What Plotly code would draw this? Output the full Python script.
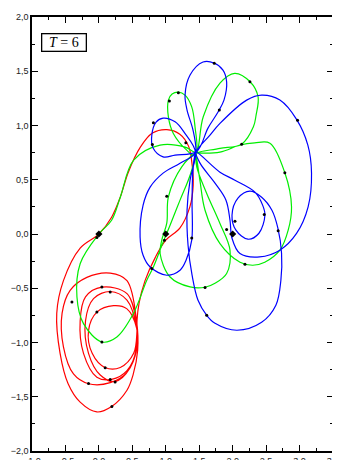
import plotly.graph_objects as go

# ---- red trajectory ----
RED_X = [0.00, 0.19, 0.32, 0.44, 0.62, 0.80, 1.015, 1.21, 1.34, 1.39, 1.41, 1.36, 1.21, 1.00, 0.84, 0.69, 0.60, 0.57,
         0.57, 0.52, 0.32, 0.09, -0.10, -0.155, -0.03, 0.22, 0.42, 0.565,
         0.57, 0.47, 0.24, 0.02, -0.155, -0.20, -0.08, 0.17, 0.42, 0.565,
         0.57, 0.42, 0.19, -0.03, -0.23, -0.28, -0.20, 0.045, 0.42, 0.565,
         0.57, 0.42, 0.17, -0.155, -0.38, -0.53, -0.55, -0.43, -0.18, 0.17, 0.42, 0.565,
         0.58, 0.51, 0.42, 0.19, -0.03, -0.28, -0.46, -0.58, -0.63, -0.53, -0.28, 0.00]
RED_Y = [0.00, 0.155, 0.34, 0.57, 0.80, 0.93, 0.962, 0.92, 0.81, 0.66, 0.45, 0.25, 0.054, -0.057, -0.22, -0.43, -0.64, -0.80,
         -0.89, -1.10, -1.23, -1.23, -1.10, -0.89, -0.72, -0.66, -0.69, -0.87,
         -1.00, -1.23, -1.36, -1.30, -1.10, -0.80, -0.595, -0.53, -0.61, -0.87,
         -1.04, -1.26, -1.34, -1.32, -1.10, -0.80, -0.58, -0.49, -0.55, -0.84,
         -1.05, -1.275, -1.37, -1.38, -1.29, -1.04, -0.73, -0.52, -0.40, -0.36, -0.43, -0.81,
         -1.07, -1.30, -1.44, -1.59, -1.64, -1.55, -1.38, -1.10, -0.73, -0.43, -0.13, 0.00]

# ---- green trajectory ----
GREEN_X = [0.00, 0.19, 0.32, 0.52, 0.915, 1.29, 1.45,
           1.437, 1.388, 1.288, 1.188, 1.094, 1.039, 1.039, 1.113, 1.313, 1.44,
           1.56, 1.81, 2.03, 2.26, 2.38, 2.35, 2.31, 2.134, 1.81, 1.46,
           1.81, 2.11, 2.33, 2.557, 2.78, 2.88, 2.83, 2.706, 2.48, 2.30, 2.11, 1.81, 1.587, 1.51, 1.45,
           1.463, 1.612, 1.81, 1.96, 1.91, 1.736, 1.587, 1.363, 1.064, 0.915, 0.94, 1.015, 1.039, 1.239, 1.44,
           1.363, 1.213, 1.064, 0.96, 0.815, 0.716, 0.516, 0.269, 0.045, -0.23, -0.328, -0.279, 0.00]
GREEN_Y = [0.00, 0.127, 0.339, 0.681, 0.819, 0.801, 0.755,
           0.988, 1.172, 1.280, 1.308, 1.290, 1.234, 1.080, 0.927, 0.773, 0.72,
           1.08, 1.39, 1.481, 1.403, 1.265, 1.096, 0.988, 0.828, 0.79, 0.75,
           0.755, 0.82, 0.84, 0.837, 0.564, 0.25, 0.035, -0.149, -0.26, -0.288, -0.26, -0.088, 0.219, 0.496, 0.74,
           0.619, 0.374, 0.097, -0.149, -0.364, -0.454, -0.491, -0.488, -0.396, -0.180, -0.057, 0.10, 0.342, 0.619, 0.74,
           0.541, 0.312, 0.081, -0.075, -0.304, -0.426, -0.733, -0.949, -0.995, -0.826, -0.580, -0.272, 0.00]

# ---- blue trajectory ----
BLUE_X = [1.452,
          1.407, 1.318, 1.288, 1.363, 1.557, 1.721, 1.855, 1.91, 1.87, 1.781, 1.631, 1.46,
          1.139, 0.96, 0.81, 0.791, 0.855, 0.96, 1.139, 1.273, 1.44,
          1.213, 0.96, 0.766, 0.661, 0.616, 0.661, 0.766, 1.015, 1.213, 1.303, 1.388, 1.393, 1.407, 1.452,
          1.661, 1.81, 2.209, 2.433, 2.706, 2.955, 3.124, 3.179, 3.128, 2.955, 2.706, 2.403, 2.109, 1.99, 1.96, 1.90, 1.736, 1.512, 1.452,
          1.81, 2.034, 2.333, 2.448, 2.482, 2.393, 2.228, 2.049, 1.99, 2.079, 2.258, 2.433, 2.587, 2.676, 2.731,
          2.721, 2.646, 2.433, 2.064, 1.736, 1.612, 1.482, 1.393, 1.333, 1.318, 1.363, 1.452]
BLUE_Y = [0.755,
          0.958, 1.142, 1.280, 1.465, 1.585, 1.576, 1.511, 1.40, 1.234, 1.124, 0.976, 0.76,
          0.727, 0.711, 0.792, 0.911, 1.031, 1.068, 1.034, 0.939, 0.75,
          0.653, 0.561, 0.432, 0.266, -0.027, -0.196, -0.304, -0.380, -0.334, -0.242, -0.057, 0.312, 0.589, 0.755,
          0.911, 1.019, 1.234, 1.280, 1.234, 1.056, 0.819, 0.561, 0.250, 0.005, -0.149, -0.211, -0.180, -0.039, 0.127, 0.312, 0.469, 0.653, 0.755,
          0.570, 0.496, 0.386, 0.266, 0.173, 0.007, -0.048, 0.035, 0.173, 0.330, 0.395, 0.339, 0.219, 0.054, -0.177,
          -0.426, -0.657, -0.814, -0.887, -0.823, -0.749, -0.611, -0.380, -0.103, 0.219, 0.496, 0.755]

# ---- marker dots ----
BIG_DOT_X = [0.0, 1.0, 2.0]
BIG_DOT_Y = [0.0, 0.0, 0.0]
DOT_X = [1.054, 1.188, 1.725, 2.258, 1.80, 0.815, 0.80, 1.30, 2.134, 2.97, 2.78, 1.015, 2.472, 2.034, 1.91, 2.68,
         2.184, 1.587, 1.612, 0.98, 0.791, 1.388, -0.03, -0.403, 0.045, 0.169, -0.03, 0.045, 0.094, 0.169, 0.243,
         -0.155, 0.194]
DOT_Y = [1.225, 1.302, 1.573, 1.403, 1.142, 1.025, 0.826, 0.840, 0.828, 1.049, 0.564, 0.349, 0.180, 0.118, 0.042, 0.029,
         -0.279, -0.494, -0.749, -0.057, -0.318, -0.036, -0.032, -0.626, -0.488, -0.534, -0.719, -0.995, -1.232, -1.342, -1.364,
         -1.379, -1.589]

X_RANGE = [-1.0, 3.5]
Y_RANGE = [-2.0, 2.0]
LABEL = "<i>T</i> = 6"

fig = go.Figure()
for xs, ys, col in [(RED_X, RED_Y, "#ff0000"), (GREEN_X, GREEN_Y, "#00ee00"), (BLUE_X, BLUE_Y, "#0000ff")]:
    fig.add_trace(go.Scatter(x=xs, y=ys, mode="lines",
                             line=dict(color=col, width=1.2, shape="spline", smoothing=1.0),
                             hoverinfo="skip", showlegend=False))
fig.add_trace(go.Scatter(x=DOT_X, y=DOT_Y, mode="markers",
                         marker=dict(color="black", size=3), showlegend=False))
fig.add_trace(go.Scatter(x=BIG_DOT_X, y=BIG_DOT_Y, mode="markers",
                         marker=dict(color="black", size=5.5, symbol="diamond"), showlegend=False))

axis_common = dict(showgrid=False, zeroline=False, showline=True, linecolor="black", linewidth=1.5,
                   mirror="ticks", ticks="inside", ticklen=6, tickwidth=1.3, tickcolor="black",
                   tickformat=".1f", automargin=False,
                   tickfont=dict(family="Liberation Sans, Arial", size=9, color="#222"))
fig.update_xaxes(range=X_RANGE, dtick=0.5, tick0=-1.0,
                 minor=dict(dtick=0.25, ticks="inside", ticklen=3, tickwidth=1.1, tickcolor="black"),
                 **axis_common)
fig.update_yaxes(range=Y_RANGE, dtick=0.5, tick0=-2.0,
                 minor=dict(dtick=0.25, ticks="inside", ticklen=3, tickwidth=1.1, tickcolor="black"),
                 **axis_common)

fig.add_annotation(xref="paper", yref="paper", x=0.107, y=0.942, xanchor="center", yanchor="middle",
                   text=LABEL, showarrow=False,
                   font=dict(family="Liberation Serif, Times New Roman", size=14, color="black"),
                   bordercolor="black", borderwidth=1.3, borderpad=1, bgcolor="white", width=41, height=14)

fig.update_layout(width=340, height=460, margin=dict(l=24, r=15, t=9, b=17, autoexpand=False),
                  paper_bgcolor="white", plot_bgcolor="white", separators=",.")
fig.write_html("out.html")
